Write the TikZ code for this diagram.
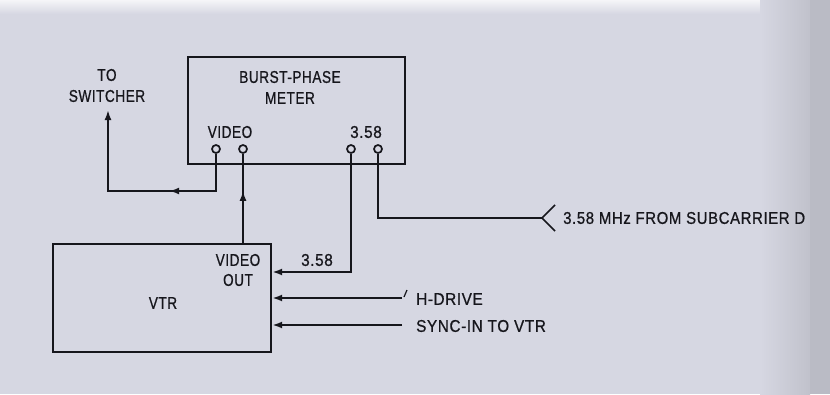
\documentclass[tikz,border=0pt]{standalone}
\usepackage{fontspec}
\setmainfont{Liberation Sans}[LetterSpace=4, FakeBold=0.8]
\usetikzlibrary{arrows.meta,decorations.markings,calc}
\definecolor{bg}{RGB}{214,215,226}
\definecolor{ink}{RGB}{22,22,28}
\definecolor{band}{RGB}{186,187,197}
\newcommand{\cnd}[2][0.8]{\scalebox{#1}[1]{#2}}
\tikzset{
  wire/.style={draw=ink, line width=2.4pt},
  box/.style={draw=ink, line width=2.4pt, rectangle, inner sep=0pt},
  term/.style={circle, draw=ink, line width=1.7pt, fill=bg, minimum size=8pt, inner sep=0pt},
  lbl/.style={text=ink, font=\fontsize{17}{19}\selectfont, inner sep=0pt, align=center},
  tipend/.style={-{Latex[length=10pt,width=7pt]}},
  midarrow/.style={postaction={decorate}, decoration={markings, mark=at position #1 with {\arrow{Latex[length=10pt,width=7pt]}}}}
}
\begin{document}
\begin{tikzpicture}[x=1pt,y=-1pt]
\useasboundingbox (0,0) rectangle (830,394);
\fill[bg] (0,0) rectangle (830,394);
\fill[top color=white!75!bg, bottom color=bg] (0,0) rectangle (830,14);
\fill[left color=bg, right color=bg!90!black] (760,0) rectangle (810,394);

% boxes
\node[box, minimum width=217pt, minimum height=107pt] (bpm) at (296.5,110.5) {};
\node[box, minimum width=218pt, minimum height=108pt] (vtr) at (162,298) {};

% terminals
\node[term] (t1) at (216,149) {};
\node[term] (t2) at (243,149) {};
\node[term] (t3) at (351,149) {};
\node[term] (t4) at (378,149) {};

% free ends
\coordinate (swt) at (108,110);
\coordinate (yA) at (0,191);
\coordinate (y358) at (0,272);
\coordinate (subc) at (542,218);
\coordinate (hd) at (402,298);
\coordinate (sy) at (402,325);

% connectors
\draw[wire, tipend, midarrow=84pt] (t1.south) -- (t1.south |- yA) -| (swt);
\draw[wire, midarrow=52pt] (t2.south |- vtr.north) -- (t2.south);
\draw[wire, tipend] (t3.south) |- (vtr.east |- y358);
\draw[wire] (t4.south) |- (subc);
\draw[draw=ink, line width=1.7pt] ($(subc)+(13,-13)$) -- (subc) -- ($(subc)+(13,13)$);
\draw[wire, tipend] (hd) -- (vtr.east |- hd);
\draw[wire, tipend] (sy) -- (vtr.east |- sy);
\draw[draw=ink, line width=1.2pt] (404,297) -- (407,290);

% labels
\node[lbl] (lto) at (107,75) {\cnd{TO}};
\node[lbl] (lsw) at (107,96) {\cnd{SWITCHER}};
\node[lbl] (lbp) at (290,77) {\cnd{BURST-PHASE}};
\node[lbl] (lme) at (290,98) {\cnd{METER}};
\node[lbl] (lvi) at (230,132) {\cnd{VIDEO}};
\node[lbl] (l358a) at (366,132) {\cnd[0.9]{3.58}};
\node[lbl] (lvo) at (238,260) {\cnd{VIDEO}};
\node[lbl] (lout) at (238,280) {\cnd{OUT}};
\node[lbl] (lvtr) at (163,303) {\cnd{VTR}};
\node[lbl] (l358b) at (317,260) {\cnd[0.9]{3.58}};
\node[lbl, anchor=west] (lhd) at (416,299) {\cnd[0.9]{H-DRIVE}};
\node[lbl, anchor=west] (lsy) at (416,326) {\cnd[0.9]{SYNC-IN TO VTR}};
\node[lbl, anchor=west] (lsub) at (563,218) {\cnd[0.88]{3.58 MHz FROM SUBCARRIER D}};

% page edge shadow
\fill[band] (810,0) rectangle (830,394);
\end{tikzpicture}
\end{document}
